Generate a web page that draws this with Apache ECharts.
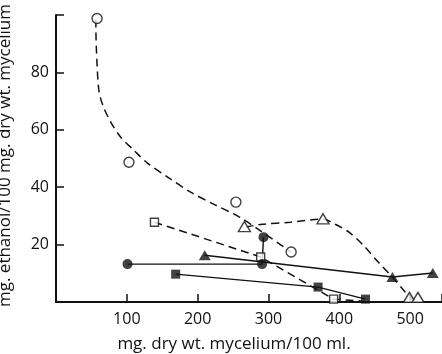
<!DOCTYPE html>
<html><head><meta charset="utf-8">
<script src="https://cdn.jsdelivr.net/npm/echarts@6/dist/echarts.min.js"></script>
<style>html,body{margin:0;padding:0;background:#fff}#c{width:442px;height:354px}</style>
</head><body><div id="c"></div>
<script>
// Open circles (dashed fitted curve)
const openCircleX = [58, 103, 254, 332];
const openCircleY = [98.8, 48.7, 34.8, 17.4];
const openCircleCurveX = [56.3, 56.3, 57.7, 60.6, 66.2, 77.5, 91.5, 109.9, 129.6, 157.7, 190, 222.5, 259, 291.5, 332];
const openCircleCurveY = [98.4, 96.3, 84.2, 73.7, 68.5, 62.6, 57.4, 52.9, 48.3, 43.5, 38.3, 34.1, 29.6, 24.3, 17.4];
// Open triangles (dashed curve)
const openTriX = [266, 377, 499, 511];
const openTriY = [26.3, 29.0, 1.6, 1.6];
const openTriCurveX = [267.6, 291.5, 331, 376, 394.4, 415.5, 433.8, 455, 474.6, 493, 502.8];
const openTriCurveY = [26.1, 27.1, 27.8, 28.9, 27.1, 24.0, 19.8, 13.9, 8.7, 3.5, 1.0];
// Open squares (dashed)
const openSqX = [139, 289, 392];
const openSqY = [27.8, 15.7, 1.0];
const openSqLineX = [139, 289, 392, 433];
const openSqLineY = [27.8, 15.7, 1.0, 0.3];
// Filled circles (solid)
const filledCircleX = [101, 291, 293];
const filledCircleY = [13.2, 13.2, 22.6];
// Filled triangles (solid)
const filledTriX = [210, 475, 532];
const filledTriY = [16.3, 8.7, 10.1];
// Filled squares (solid)
const filledSqX = [169, 370, 437];
const filledSqY = [9.7, 5.2, 1.0];

const xTicks = [100, 200, 300, 400, 500];
const yTicks = [20, 40, 60, 80];

const zip = (a, b) => a.map((v, i) => [v, b[i]]);
const FONT = 'Open Sans';
const dashLine = {color: '#111', width: 1.5, type: [8, 5]};
const solidLine = {color: '#111', width: 1.4};
const openItem = {color: '#fff', borderColor: '#111', borderWidth: 1.4};
const fillItem = {color: '#111'};

const chart = echarts.init(document.getElementById('c'), null, {renderer: 'canvas'});
chart.setOption({
  backgroundColor: '#fff',
  animation: false,
  grid: {left: 56, right: 0, top: 15, bottom: 52, containLabel: false, outerBoundsMode: 'none'},
  xAxis: {
    type: 'value', min: 0, max: 545, interval: 100,
    name: 'mg. dry wt. mycelium/100 ml.', nameLocation: 'middle', nameGap: 34,
    nameTextStyle: {color: '#111', fontSize: 17, fontFamily: FONT, padding: [0, 30, 0, 0]},
    axisLine: {show: true, onZero: false, lineStyle: {color: '#111', width: 2}},
    axisTick: {show: true, inside: true, length: 8, lineStyle: {color: '#111', width: 1.5}},
    axisLabel: {color: '#111', fontSize: 16, fontFamily: FONT, margin: 9,
      formatter: v => xTicks.includes(v) ? String(v) : ''},
    splitLine: {show: false}
  },
  yAxis: {
    type: 'value', min: 0, max: 100, interval: 20,
    name: 'mg. ethanol/100 mg. dry wt. mycelium', nameLocation: 'middle', nameGap: 42,
    nameTextStyle: {color: '#111', fontSize: 17, fontFamily: FONT, padding: [0, 0, 0, 6]},
    axisLine: {show: true, lineStyle: {color: '#111', width: 2}},
    axisTick: {show: true, inside: true, length: 8, lineStyle: {color: '#111', width: 1.5}},
    axisLabel: {color: '#111', fontSize: 16, fontFamily: FONT, margin: 7,
      formatter: v => yTicks.includes(v) ? String(v) : ''},
    splitLine: {show: false}
  },
  series: [
    {type: 'line', data: zip(openCircleCurveX, openCircleCurveY), smooth: 0.3, showSymbol: false, lineStyle: dashLine, z: 2},
    {type: 'line', data: zip(openTriCurveX, openTriCurveY), smooth: 0.3, showSymbol: false, lineStyle: dashLine, z: 2},
    {type: 'line', data: zip(openSqLineX, openSqLineY), showSymbol: false, lineStyle: dashLine, z: 2},
    {type: 'line', data: zip(filledCircleX, filledCircleY), showSymbol: false, lineStyle: solidLine, z: 2},
    {type: 'line', data: zip(filledTriX, filledTriY), showSymbol: false, lineStyle: solidLine, z: 2},
    {type: 'line', data: zip(filledSqX, filledSqY), showSymbol: false, lineStyle: solidLine, z: 2},
    {type: 'scatter', data: zip(openCircleX, openCircleY), symbol: 'circle', symbolSize: 10, itemStyle: openItem, z: 5},
    {type: 'scatter', data: zip(openTriX, openTriY), symbol: 'triangle', symbolSize: [12, 10], itemStyle: openItem, z: 5},
    {type: 'scatter', data: zip(openSqX, openSqY), symbol: 'rect', symbolSize: 8, itemStyle: openItem, z: 5},
    {type: 'scatter', data: zip(filledCircleX, filledCircleY), symbol: 'circle', symbolSize: 10, itemStyle: fillItem, z: 5},
    {type: 'scatter', data: zip(filledTriX, filledTriY), symbol: 'triangle', symbolSize: [12, 10], itemStyle: fillItem, z: 5},
    {type: 'scatter', data: zip(filledSqX, filledSqY), symbol: 'rect', symbolSize: 9, itemStyle: fillItem, z: 5}
  ]
});
</script></body></html>
